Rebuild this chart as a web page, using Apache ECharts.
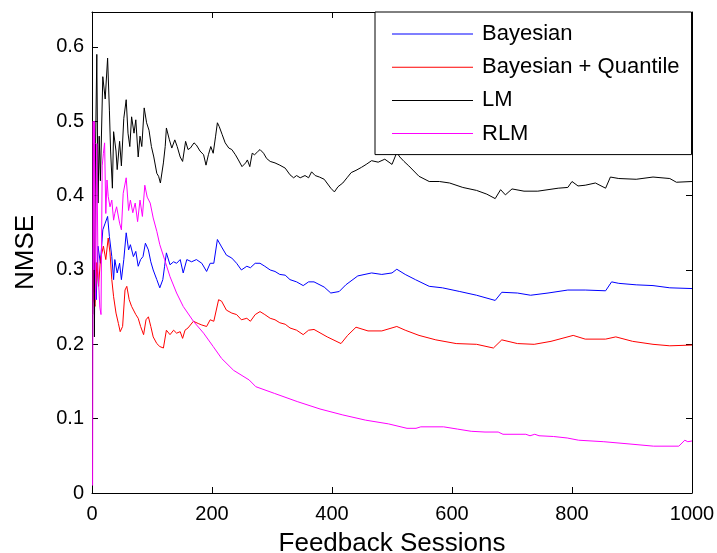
<!DOCTYPE html>
<html>
<head>
<meta charset="utf-8">
<script src="https://cdn.jsdelivr.net/npm/echarts@6/dist/echarts.min.js"></script>
<style>
html,body{margin:0;padding:0;background:#fff;}
#chart{width:717px;height:553px;}
</style>
</head>
<body>
<div id="chart"></div>
<script>
// ---- data ----
const seriesNames = ["Bayesian", "Bayesian + Quantile", "LM", "RLM"];
const xTicks = [0, 200, 400, 600, 800, 1000];
const yTicks = [0, 0.1, 0.2, 0.3, 0.4, 0.5, 0.6];

const bayesX = [1,2,3,5,7,10,14,18,22,26,29,33,36,38,42,46,49,53,57,61,64,69,73,77,81,85,89,94,98,102,108,113,118,121,124,130,136,141,147,152,158,166,174,183,191,197,203,209,216,224,233,241,249,258,264,272,280,288,297,305,313,322,330,341,352,361,370,387,398,412,423,443,466,483,500,508,522,539,562,584,613,641,672,683,709,731,760,793,822,856,866,878,907,935,963,1000];
const bayesY = [0.24,0.33,0.27,0.31,0.26,0.332,0.309,0.354,0.363,0.372,0.345,0.318,0.287,0.314,0.296,0.309,0.287,0.314,0.35,0.327,0.334,0.318,0.325,0.305,0.314,0.318,0.336,0.327,0.311,0.3,0.287,0.276,0.287,0.305,0.323,0.307,0.311,0.309,0.314,0.296,0.314,0.311,0.314,0.309,0.298,0.309,0.309,0.341,0.331,0.32,0.316,0.309,0.3,0.305,0.303,0.309,0.309,0.305,0.3,0.298,0.294,0.293,0.287,0.284,0.279,0.284,0.284,0.277,0.269,0.271,0.28,0.292,0.296,0.294,0.296,0.301,0.294,0.287,0.278,0.276,0.271,0.266,0.259,0.27,0.269,0.266,0.269,0.273,0.273,0.272,0.284,0.282,0.28,0.279,0.276,0.275];

const quantX = [1,2,3,5,8,11,14,19,23,27,30,33,36,40,44,47,51,55,58,62,66,69,73,77,81,86,90,94,98,102,108,113,119,124,130,136,141,147,151,155,160,169,177,183,191,197,203,211,216,224,233,241,249,258,264,272,280,288,297,305,313,322,330,341,352,361,370,392,415,426,440,460,483,508,522,545,573,607,641,669,683,709,737,765,802,822,856,873,901,935,963,1000];
const quantY = [0.24,0.3,0.26,0.251,0.31,0.278,0.314,0.332,0.314,0.343,0.323,0.287,0.264,0.242,0.228,0.217,0.224,0.273,0.278,0.26,0.251,0.253,0.24,0.235,0.224,0.213,0.233,0.237,0.224,0.21,0.201,0.197,0.195,0.219,0.213,0.219,0.215,0.217,0.208,0.219,0.222,0.231,0.228,0.226,0.224,0.233,0.231,0.26,0.258,0.246,0.242,0.24,0.233,0.235,0.231,0.24,0.244,0.24,0.235,0.233,0.229,0.227,0.222,0.219,0.213,0.219,0.22,0.21,0.201,0.212,0.223,0.218,0.218,0.224,0.219,0.212,0.206,0.201,0.2,0.195,0.206,0.201,0.2,0.204,0.212,0.207,0.207,0.21,0.204,0.2,0.198,0.199];

const lmX = [1,2,4,6,8,10,12,14,18,22,26,29,31,34,36,40,42,46,49,53,57,60,63,66,70,73,77,80,83,87,91,95,99,103,108,111,114,119,122,124,129,133,138,142,147,151,156,160,164,170,174,180,186,190,194,198,202,206,209,212,217,222,228,233,239,244,250,256,259,263,267,271,276,280,286,291,297,305,313,322,330,336,341,347,355,361,366,372,379,387,398,404,410,418,425,432,440,449,457,466,477,488,500,505,508,513,520,528,545,562,579,596,618,641,658,672,681,689,700,720,743,760,777,793,800,810,822,839,856,864,878,907,935,963,974,1000];
const lmY = [0.24,0.47,0.21,0.47,0.59,0.39,0.48,0.42,0.56,0.53,0.585,0.515,0.46,0.41,0.486,0.46,0.435,0.473,0.44,0.504,0.529,0.484,0.466,0.506,0.484,0.502,0.452,0.48,0.466,0.518,0.498,0.488,0.466,0.452,0.43,0.426,0.417,0.444,0.466,0.491,0.475,0.464,0.475,0.466,0.452,0.446,0.473,0.462,0.464,0.471,0.468,0.46,0.455,0.441,0.455,0.466,0.457,0.48,0.498,0.493,0.482,0.471,0.464,0.462,0.455,0.448,0.439,0.444,0.448,0.439,0.457,0.455,0.459,0.462,0.457,0.45,0.446,0.444,0.441,0.437,0.428,0.424,0.427,0.424,0.427,0.424,0.432,0.427,0.425,0.422,0.41,0.405,0.412,0.417,0.424,0.431,0.434,0.438,0.442,0.447,0.445,0.449,0.442,0.452,0.458,0.452,0.446,0.44,0.426,0.419,0.419,0.417,0.411,0.407,0.402,0.396,0.408,0.401,0.409,0.406,0.406,0.408,0.41,0.411,0.419,0.413,0.414,0.417,0.41,0.425,0.423,0.422,0.425,0.423,0.418,0.419];

const rlmX = [1,2,3,4,6,8,10,13,15,17,19,21,23,25,27,30,33,36,38,41,46,49,52,57,61,64,68,72,76,80,84,88,92,97,102,108,113,121,130,141,152,169,186,202,216,236,262,273,304,342,380,418,456,494,525,540,548,586,609,632,655,677,685,723,730,738,745,769,792,811,853,895,936,978,988,993,1000];
const rlmY = [0.01,0.5,0.3,0.5,0.26,0.47,0.3,0.25,0.24,0.44,0.457,0.471,0.376,0.421,0.399,0.385,0.394,0.367,0.376,0.385,0.363,0.354,0.403,0.424,0.38,0.394,0.377,0.39,0.365,0.394,0.372,0.414,0.398,0.39,0.37,0.352,0.334,0.314,0.291,0.269,0.251,0.231,0.215,0.197,0.181,0.165,0.152,0.143,0.134,0.123,0.113,0.105,0.098,0.093,0.087,0.087,0.089,0.089,0.086,0.083,0.082,0.082,0.079,0.079,0.077,0.079,0.077,0.076,0.074,0.071,0.069,0.066,0.063,0.063,0.071,0.069,0.07];

const colors = ["#0000ff", "#ff0000", "#000000", "#ff00ff"];
const allX = [bayesX, quantX, lmX, rlmX];
const allY = [bayesY, quantY, lmY, rlmY];

// ---- chart ----
const chart = echarts.init(document.getElementById('chart'), null, {renderer: 'canvas'});
const font = '"Liberation Sans", Arial, Helvetica, sans-serif';
const tickInside = {show: true, inside: true, length: 6, lineStyle: {color: '#000', width: 1}};
const axisLineBlack = {show: true, onZero: false, lineStyle: {color: '#000', width: 1}};
const yMax = 0.647;

const option = {
  animation: false,
  backgroundColor: '#fff',
  grid: {left: 92, right: 25, top: 12, bottom: 60, containLabel: false, outerBoundsMode: 'none'},
  legend: {
    orient: 'vertical',
    left: 375,
    top: 12,
    data: seriesNames,
    icon: 'rect',
    backgroundColor: '#fff',
    borderColor: '#000',
    borderWidth: 1,
    padding: [11, 12, 10, 17],
    itemWidth: 81,
    itemHeight: 1,
    itemGap: 11.2,
    textStyle: {fontFamily: font, fontSize: 22, lineHeight: 22, color: '#000', padding: [0, 0, 0, 4]},
    z: 10
  },
  xAxis: [{
    type: 'value', min: 0, max: 1000, interval: 200, position: 'bottom',
    name: 'Feedback Sessions', nameLocation: 'middle', nameGap: 38,
    nameTextStyle: {fontFamily: font, fontSize: 26, color: '#000'},
    axisLine: axisLineBlack, axisTick: tickInside, splitLine: {show: false},
    axisLabel: {fontFamily: font, fontSize: 20, color: '#000', margin: 11, formatter: v => String(v)}
  }, {
    type: 'value', min: 0, max: 1000, interval: 200, position: 'top',
    axisLine: axisLineBlack, axisTick: tickInside, splitLine: {show: false},
    axisLabel: {show: false}
  }],
  yAxis: [{
    type: 'value', min: 0, max: yMax, interval: 0.1, position: 'left',
    name: 'NMSE', nameLocation: 'middle', nameGap: 53, nameRotate: 90,
    nameTextStyle: {fontFamily: font, fontSize: 26, color: '#000'},
    axisLine: axisLineBlack, axisTick: tickInside, splitLine: {show: false},
    axisLabel: {fontFamily: font, fontSize: 20, color: '#000', margin: 8, showMaxLabel: false,
      formatter: v => (Math.abs(v * 10 - Math.round(v * 10)) < 1e-6) ? String(Math.round(v * 10) / 10) : ''}
  }, {
    type: 'value', min: 0, max: yMax, interval: 0.1, position: 'right',
    axisLine: axisLineBlack, axisTick: tickInside, splitLine: {show: false},
    axisLabel: {show: false}
  }],
  series: seriesNames.map((name, i) => ({
    name: name,
    type: 'line',
    xAxisIndex: 0,
    yAxisIndex: 0,
    symbol: 'none',
    smooth: false,
    lineStyle: {color: colors[i], width: 1},
    itemStyle: {color: colors[i]},
    data: allX[i].map((x, j) => [x, allY[i][j]])
  }))
};
chart.setOption(option);
</script>
</body>
</html>
